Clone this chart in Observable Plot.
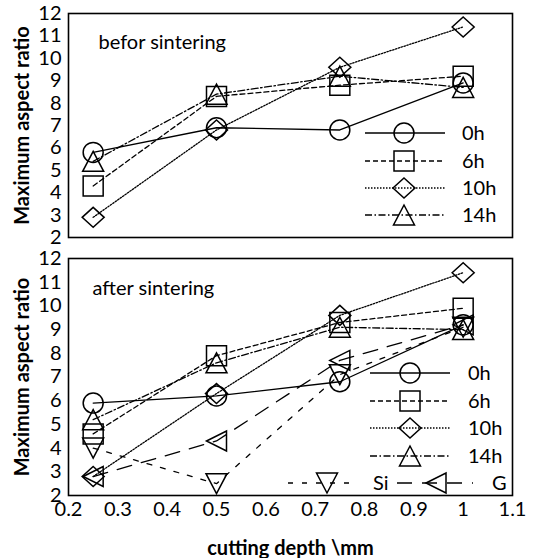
<!DOCTYPE html>
<html><head><meta charset="utf-8">
<script src="https://cdn.jsdelivr.net/npm/d3@7"></script>
<script src="https://cdn.jsdelivr.net/npm/@observablehq/plot@0.6"></script>
<style>body{margin:0;background:#fff;} #chart{width:539px;} svg{display:block;} #chart svg + svg{margin-top:-10px;}</style>
</head><body><div id="chart"></div>
<script>
// ---- data ----
const depth = [0.25, 0.5, 0.75, 1];
const hours = ["0h", "6h", "10h", "14h"];
const before_0h  = [5.8, 6.9, 6.8, 8.9];
const before_6h  = [4.3, 8.3, 8.8, 9.2];
const before_10h = [2.9, 6.8, 9.6, 11.4];
const before_14h = [5.4, 8.4, 9.2, 8.7];
const after_0h  = [5.9, 6.2, 6.8, 9.2];
const after_6h  = [4.6, 7.9, 9.3, 9.9];
const after_10h = [2.8, 6.3, 9.6, 11.4];
const after_14h = [5.2, 7.6, 9.1, 9.0];
const after_Si  = [4.0, 2.5, 7.1, 9.1];
const after_G   = [2.8, 4.3, 7.7, 9.2];
const xTicks = [0.2, 0.3, 0.4, 0.5, 0.6, 0.7, 0.8, 0.9, 1, 1.1];
const yTicks = [2, 3, 4, 5, 6, 7, 8, 9, 10, 11, 12];
const panelTitles = ["befor sintering", "after sintering"];
const yTitle = "Maximum aspect ratio";
const xTitle = "cutting depth \\mm";

// ---- symbols ----
const symCircle = {draw(c, s){const r=Math.sqrt(s/Math.PI); c.moveTo(r,0); c.arc(0,0,r,0,2*Math.PI);}};
const symSquare = {draw(c, s){const r=Math.sqrt(s/Math.PI); c.rect(-r,-r,2*r,2*r);}};
const symDiamond = {draw(c, s){const r=Math.sqrt(s/Math.PI); c.moveTo(0,-r); c.lineTo(r*1.1,0); c.lineTo(0,r); c.lineTo(-r*1.1,0); c.closePath();}};
const symTriUp = {draw(c, s){const r=Math.sqrt(s/Math.PI); c.moveTo(0,-r); c.lineTo(r*1.05,r); c.lineTo(-r*1.05,r); c.closePath();}};
const symTriDown = {draw(c, s){const r=Math.sqrt(s/Math.PI); c.moveTo(0,r); c.lineTo(r*1.05,-r); c.lineTo(-r*1.05,-r); c.closePath();}};
const symTriLeft = {draw(c, s){const r=Math.sqrt(s/Math.PI); c.moveTo(-r,0); c.lineTo(r,-r); c.lineTo(r,r); c.closePath();}};

const seriesStyle = {
  "0h": {sym: symCircle, dash: null},
  "6h": {sym: symSquare, dash: "5,3"},
  "10h": {sym: symDiamond, dash: "1.5,1.5"},
  "14h": {sym: symTriUp, dash: "7,2.5,1.5,2.5"},
  "Si": {sym: symTriDown, dash: "5,9"},
  "G": {sym: symTriLeft, dash: "15,10"}
};

const FONT = "Lato, 'Open Sans', sans-serif";
const FS = 20;
const R = 10;

function seriesMarks(name, vals) {
  const rows = depth.map((d, i) => ({depth: d, value: vals[i]}));
  const st = seriesStyle[name];
  const lineOpts = {x: "depth", y: "value", stroke: "black", strokeWidth: 1.3};
  if (st.dash) lineOpts.strokeDasharray = st.dash;
  return [
    Plot.line(rows, lineOpts),
    Plot.dot(rows, {x: "depth", y: "value", symbol: st.sym, r: R, fill: "none", stroke: "black", strokeWidth: 1.5})
  ];
}

function makePlot({height, marginTop, marginBottom, showX, series, title, titleDx, titleDy, background}) {
  const marks = [];
  for (const [name, vals] of series) marks.push(...seriesMarks(name, vals));
  marks.push(Plot.frame({stroke: "black", strokeWidth: 1.6}));
  marks.push(Plot.axisY(yTicks, {tickSize: 0, tickPadding: 7, label: null, fontSize: FS}));
  if (showX) {
    marks.push(Plot.axisX(xTicks, {tickSize: 0, tickPadding: 6, label: null, fontSize: FS, tickFormat: d => String(d)}));
    marks.push(Plot.text([xTitle], {frameAnchor: "bottom", dy: 53, text: d => d, fontSize: FS, fontWeight: "bold", lineAnchor: "middle", fill: "black"}));
  }
  marks.push(Plot.text([yTitle], {frameAnchor: "left", dx: -46, rotate: -90, text: d => d, fontSize: FS, fontWeight: "bold", textAnchor: "middle", lineAnchor: "middle", fill: "black"}));
  marks.push(Plot.text([title], {frameAnchor: "top-left", dx: titleDx, dy: titleDy, text: d => d, fontSize: FS, textAnchor: "start", lineAnchor: "middle", fill: "black"}));
  return Plot.plot({
    width: 539, height,
    marginTop, marginBottom, marginLeft: 68, marginRight: 27,
    style: {fontFamily: FONT, fontSize: FS + "px", color: "black", background, overflow: "visible"},
    x: {domain: [0.2, 1.1], axis: null},
    y: {domain: [2, 12], axis: null},
    marks
  });
}

function addLegend(svg, items) {
  const g = d3.select(svg).append("g").attr("text-anchor", "start");
  for (const it of items) {
    const st = seriesStyle[it.name];
    const ln = g.append("line").attr("x1", it.x1).attr("x2", it.x2).attr("y1", it.y).attr("y2", it.y)
      .attr("stroke", "black").attr("stroke-width", 1.3);
    if (st.dash) ln.attr("stroke-dasharray", st.dash);
    g.append("path").attr("transform", `translate(${it.mx},${it.y})`)
      .attr("d", d3.symbol(st.sym, Math.PI * R * R)())
      .attr("fill", "none").attr("stroke", "black").attr("stroke-width", 1.5);
    g.append("text").attr("x", it.tx).attr("y", it.y).attr("dy", "0.35em").attr("text-anchor", "start")
      .attr("font-family", FONT).attr("font-size", FS).attr("fill", "black").text(it.name);
  }
}

// top svg: 0..250 ; bottom svg: 240..558 (overlapping 10px, transparent)
const topPlot = makePlot({height: 250, marginTop: 13, marginBottom: 13, showX: false, background: "white",
  series: [["0h", before_0h], ["6h", before_6h], ["10h", before_10h], ["14h", before_14h]],
  title: panelTitles[0], titleDx: 30, titleDy: 29});
const bottomPlot = makePlot({height: 318, marginTop: 18, marginBottom: 63, showX: true, background: "transparent",
  series: [["0h", after_0h], ["6h", after_6h], ["10h", after_10h], ["14h", after_14h], ["Si", after_Si], ["G", after_G]],
  title: panelTitles[1], titleDx: 24, titleDy: 30});

const topRows = [133, 161, 188, 215];
addLegend(topPlot, hours.map((h, i) => ({name: h, x1: 365, x2: 445, mx: 404, tx: 462, y: topRows[i]})));
const botRows = [133, 161, 188, 216, 243];
addLegend(bottomPlot, [
  ...hours.map((h, i) => ({name: h, x1: 370, x2: 450, mx: 410, tx: 468, y: botRows[i]})),
  {name: "Si", x1: 288, x2: 358, mx: 327, tx: 373, y: botRows[4]},
  {name: "G", x1: 397, x2: 473, mx: 436, tx: 492, y: botRows[4]}
]);

document.getElementById("chart").append(topPlot, bottomPlot);
</script>
</body></html>
